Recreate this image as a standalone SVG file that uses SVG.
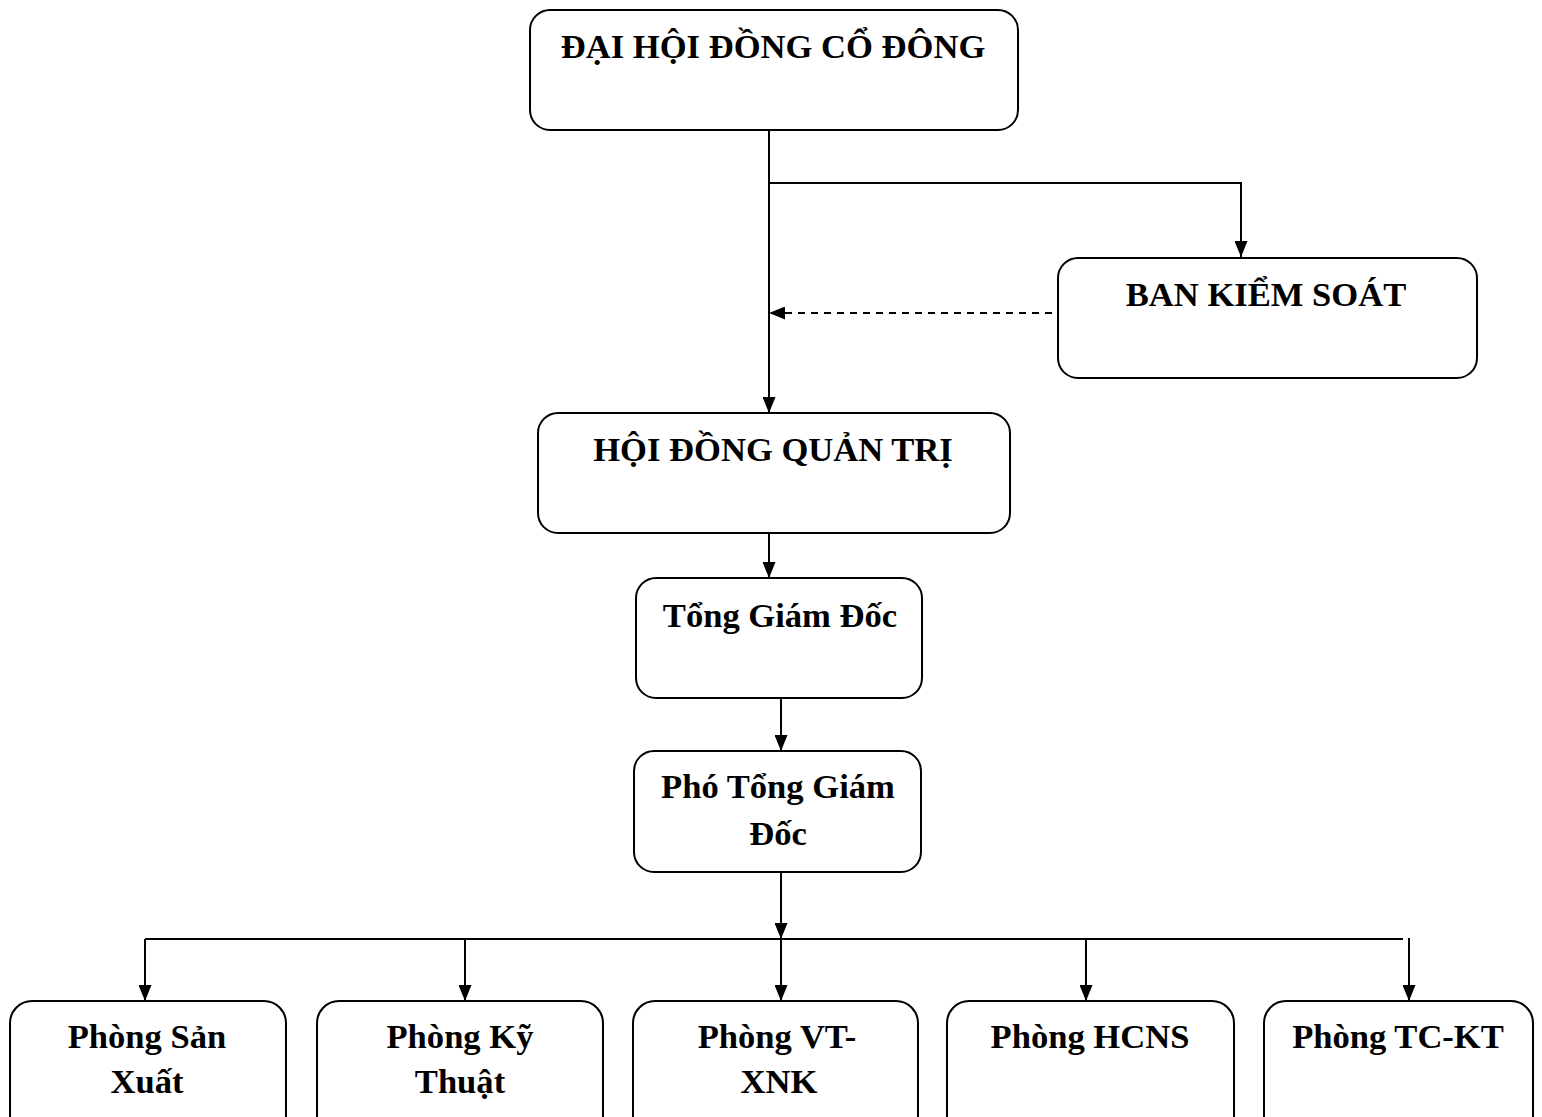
<svg xmlns="http://www.w3.org/2000/svg" width="1542" height="1117" viewBox="0 0 1542 1117">
<style>
.box{fill:#fff;stroke:#000;stroke-width:2}
.t{font-family:"Liberation Serif","Times New Roman",serif;font-weight:bold;font-size:34.6px;fill:#000;text-anchor:middle}
.c{fill:none;stroke:#000;stroke-width:2}
.d{fill:none;stroke:#000;stroke-width:2;stroke-dasharray:7,6}
</style>
<defs>
<marker id="ah" viewBox="0 0 16 13" refX="16" refY="6.5" markerWidth="16" markerHeight="13" markerUnits="userSpaceOnUse" orient="auto">
<path d="M0,0 L16,6.5 L0,13 Z" fill="#000"/>
</marker>
</defs>
<g id="connectors">
<path class="c" d="M769,130 V413" marker-end="url(#ah)"/>
<path class="c" d="M769,183 H1241 V257" marker-end="url(#ah)"/>
<path class="d" d="M1052,313 H769" marker-end="url(#ah)"/>
<path class="c" d="M769,533 V578" marker-end="url(#ah)"/>
<path class="c" d="M781,698 V751" marker-end="url(#ah)"/>
<path class="c" d="M781,872 V939" marker-end="url(#ah)"/>
<path class="c" d="M145,939 H1403"/>
<path class="c" d="M145,939 V1001" marker-end="url(#ah)"/>
<path class="c" d="M465,939 V1001" marker-end="url(#ah)"/>
<path class="c" d="M781,939 V1001" marker-end="url(#ah)"/>
<path class="c" d="M1086,939 V1001" marker-end="url(#ah)"/>
<path class="c" d="M1409,938 V1001" marker-end="url(#ah)"/>
</g>
<g id="dhdcd">
<rect class="box" x="530" y="10" width="488" height="120" rx="20"/>
<text class="t" x="773" y="58">ĐẠI HỘI ĐỒNG CỔ ĐÔNG</text>
</g>
<g id="bks">
<rect class="box" x="1058" y="258" width="419" height="120" rx="20"/>
<text class="t" x="1266" y="306">BAN KIỂM SOÁT</text>
</g>
<g id="hdqt">
<rect class="box" x="538" y="413" width="472" height="120" rx="20"/>
<text class="t" x="773" y="461">HỘI ĐỒNG QUẢN TRỊ</text>
</g>
<g id="tgd">
<rect class="box" x="636" y="578" width="286" height="120" rx="20"/>
<text class="t" x="780" y="627">Tổng Giám Đốc</text>
</g>
<g id="ptgd">
<rect class="box" x="634" y="751" width="287" height="121" rx="20"/>
<text class="t" x="778" y="798">Phó Tổng Giám</text>
<text class="t" x="778" y="845">Đốc</text>
</g>
<g id="sx">
<rect class="box" x="10" y="1001" width="276" height="140" rx="22"/>
<text class="t" x="147" y="1048">Phòng Sản</text>
<text class="t" x="147" y="1093">Xuất</text>
</g>
<g id="kt">
<rect class="box" x="317" y="1001" width="286" height="140" rx="22"/>
<text class="t" x="460" y="1048">Phòng Kỹ</text>
<text class="t" x="460" y="1093">Thuật</text>
</g>
<g id="vtxnk">
<rect class="box" x="633" y="1001" width="285" height="140" rx="22"/>
<text class="t" x="777" y="1048">Phòng VT-</text>
<text class="t" x="779" y="1093">XNK</text>
</g>
<g id="hcns">
<rect class="box" x="947" y="1001" width="287" height="140" rx="22"/>
<text class="t" x="1090" y="1048">Phòng HCNS</text>
</g>
<g id="tckt">
<rect class="box" x="1264" y="1001" width="269" height="140" rx="22"/>
<text class="t" x="1398" y="1048">Phòng TC-KT</text>
</g>
</svg>
